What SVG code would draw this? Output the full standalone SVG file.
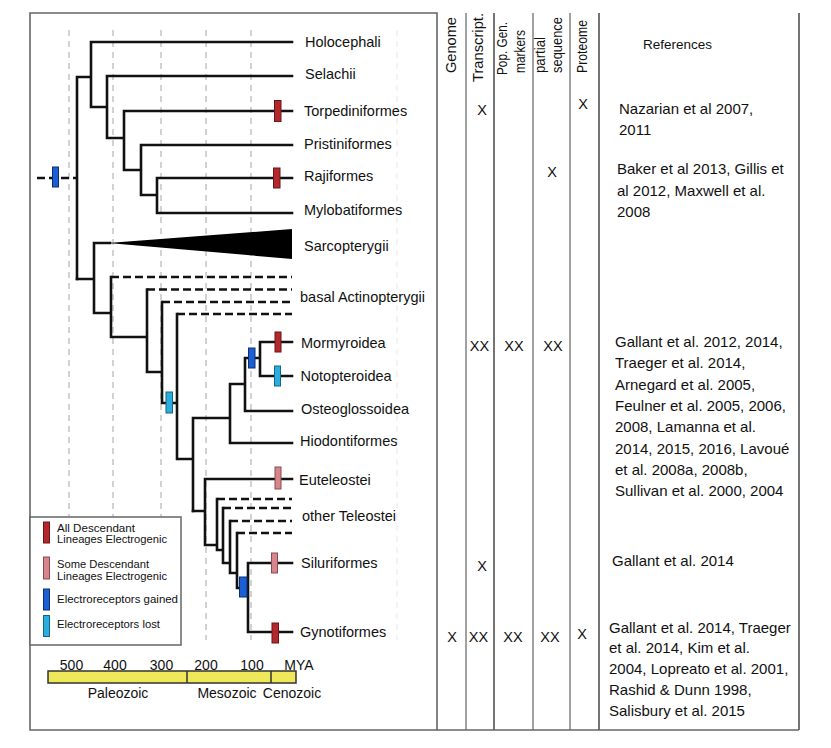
<svg xmlns="http://www.w3.org/2000/svg" width="831" height="748" viewBox="0 0 831 748">
<style>
text{font-family:"Liberation Sans",Arial,sans-serif;fill:#111}
.lab{font-size:14.5px}
.ref{font-size:15px}
.hdr{font-size:14px}
.xm{font-size:14.5px;text-anchor:middle}
.leg{font-size:11px}
.tl{font-size:14px;text-anchor:middle}
.br{stroke:#111;stroke-width:2.6;fill:none;stroke-linecap:square}
.da{stroke:#111;stroke-width:2.5;fill:none;stroke-dasharray:8 4}
.grid{stroke:#c4c4c4;stroke-width:1.5;stroke-dasharray:6 5;fill:none}
.frame{stroke:#666;stroke-width:1.6;fill:none}
.col{stroke:#8a8a8a;stroke-width:1.6}
.red{fill:#b3282d;stroke:#6b1416;stroke-width:1}
.pink{fill:#d6858a;stroke:#8a4a4e;stroke-width:1}
.blue{fill:#1c5ed6;stroke:#0d2f70;stroke-width:1}
.lblue{fill:#2badde;stroke:#156585;stroke-width:1}
</style>
<rect width="831" height="748" fill="#fff"/>
<g id="grid">
<path class="grid" d="M69 30V640M113 30V640M161 30V640M206 30V640M251 30V640"/>
<path d="M397 30V640" stroke="#ececec" stroke-width="1.2" stroke-dasharray="6 5"/>
</g>
<g id="frame">
<path class="frame" d="M30 13H437V730H30Z"/>
<path class="col" d="M466 13V730M533 13V730M570 13V730"/>
<path d="M494 13V730M599 13V730M799 13V730" stroke="#666" stroke-width="1.8"/>
<path class="frame" d="M437 730H799"/>
</g>
<g id="connectors">
<path class="da" d="M37 178H77" stroke-dasharray="5 4"/>
<path class="br" d="M77 77V279M77 77H91M91 42V107M91 42H292M91 107H107M107 76V138M107 76H292M107 138H124M124 111V170M124 111H292M124 170H141M141 145V195M141 145H292M141 195H157M157 178V213M157 178H292M157 213H292"/>
<path class="br" d="M77 279H94M94 243V313M94 243H110M94 313H111M111 277V337M111 337H147M147 289.5V372M147 372H162M162 302V403M162 403H177M177 314V459M177 459H193M193 418V511M193 418H230M230 384V443M230 443H292M230 384H245M245 358V411M245 411H292M245 358H260M260 342V376M260 342H292M260 376H292"/>
<path d="M108 243L292 229V259Z" fill="#000"/>
<path class="da" d="M111 277H292M147 289.5H292M162 302H292M177 314H292"/>
<path class="br" d="M193 511H205M205 479V545M205 479H292M205 545H217M217 499V550M217 550H223M223 508V563M223 563H230M230 521V573M230 573H237M237 533V588M237 588H248M248 563V632M248 563H292M248 632H292"/>
<path class="da" d="M217 499H292M223 508H292M230 521H292M237 533H292"/>
</g>
<g id="root-marker"><rect class="blue" x="52.5" y="167" width="6" height="20"/></g>
<g id="holocephali"><text class="lab" x="305" y="46.5">Holocephali</text></g>
<g id="selachii"><text class="lab" x="305" y="79">Selachii</text></g>
<g id="torpediniformes"><rect class="red" x="274.5" y="100.5" width="6.5" height="21"/><text class="lab" x="304" y="115.5">Torpediniformes</text></g>
<g id="pristiniformes"><text class="lab" x="304" y="149">Pristiniformes</text></g>
<g id="rajiformes"><rect class="red" x="273.5" y="168" width="6.5" height="20"/><text class="lab" x="304" y="181">Rajiformes</text></g>
<g id="mylobatiformes"><text class="lab" x="304" y="214.5">Mylobatiformes</text></g>
<g id="sarcopterygii"><text class="lab" x="304" y="250.5">Sarcopterygii</text></g>
<g id="basal-actinopterygii"><text class="lab" x="300" y="301.5">basal Actinopterygii</text></g>
<g id="mormyroidea"><rect class="red" x="275" y="332" width="6" height="20"/><text class="lab" x="301" y="348">Mormyroidea</text></g>
<g id="notopteroidea"><rect class="lblue" x="274.5" y="366" width="6" height="20"/><text class="lab" x="300.5" y="380.5">Notopteroidea</text></g>
<g id="electroreceptors-gained-mormyrid"><rect class="blue" x="248.5" y="348" width="6.5" height="20"/></g>
<g id="electroreceptors-lost"><rect class="lblue" x="166" y="392" width="6.5" height="21"/></g>
<g id="osteoglossoidea"><text class="lab" x="301" y="414">Osteoglossoidea</text></g>
<g id="hiodontiformes"><text class="lab" x="300" y="446">Hiodontiformes</text></g>
<g id="euteleostei"><rect class="pink" x="275" y="467" width="6" height="22"/><text class="lab" x="299" y="484.5">Euteleostei</text></g>
<g id="other-teleostei"><text class="lab" x="302" y="521">other Teleostei</text></g>
<g id="siluriformes"><rect class="pink" x="271.5" y="553" width="6" height="20"/><text class="lab" x="301" y="568">Siluriformes</text></g>
<g id="electroreceptors-gained-ostariophysi"><rect class="blue" x="239.5" y="577" width="7.5" height="20"/></g>
<g id="gynotiformes"><rect class="red" x="272" y="623" width="6.5" height="20"/><text class="lab" x="300" y="637">Gynotiformes</text></g>
<g id="legend">
<rect x="30" y="517" width="151" height="128" fill="#fff" stroke="#666" stroke-width="1.5"/>
<rect class="red" x="43.5" y="522" width="6" height="21"/>
<text class="leg" x="57" y="531.5" textLength="78" lengthAdjust="spacingAndGlyphs">All Descendant</text>
<text class="leg" x="57" y="543" textLength="110" lengthAdjust="spacingAndGlyphs">Lineages Electrogenic</text>
<rect class="pink" x="43.5" y="557" width="6" height="22"/>
<text class="leg" x="57" y="567.5" textLength="92" lengthAdjust="spacingAndGlyphs">Some Descendant</text>
<text class="leg" x="57" y="579.5" textLength="110" lengthAdjust="spacingAndGlyphs">Lineages Electrogenic</text>
<rect class="blue" x="43.5" y="589" width="6" height="21"/>
<text class="leg" x="57" y="602.5" textLength="121" lengthAdjust="spacingAndGlyphs">Electroreceptors gained</text>
<rect class="lblue" x="43.5" y="615.5" width="6" height="21"/>
<text class="leg" x="57" y="628" textLength="103" lengthAdjust="spacingAndGlyphs">Electroreceptors lost</text>
</g>
<g id="timeline">
<rect x="48" y="671" width="248" height="12" fill="#efe858" stroke="#333" stroke-width="1.5"/>
<path d="M187 671V683M271 671V683" stroke="#333" stroke-width="1.5"/>
<text class="tl" x="71.5" y="669.5">500</text>
<text class="tl" x="115" y="669.5">400</text>
<text class="tl" x="161.5" y="669.5">300</text>
<text class="tl" x="206" y="669.5">200</text>
<text class="tl" x="252" y="669.5">100</text>
<text class="tl" x="299" y="669.5">MYA</text>
<text class="tl" x="118" y="697.5">Paleozoic</text>
<text class="tl" x="227" y="697.5">Mesozoic</text>
<text class="tl" x="292" y="697.5">Cenozoic</text>
</g>
<g id="headers">
<text class="hdr" transform="translate(455.5 73) rotate(-90)" textLength="56" lengthAdjust="spacingAndGlyphs">Genome</text>
<text class="hdr" transform="translate(482.5 82) rotate(-90)" textLength="69" lengthAdjust="spacingAndGlyphs">Transcript.</text>
<text class="hdr" transform="translate(507 75) rotate(-90)" textLength="53" lengthAdjust="spacingAndGlyphs">Pop. Gen.</text>
<text class="hdr" transform="translate(524.5 73) rotate(-90)" textLength="43" lengthAdjust="spacingAndGlyphs">markers</text>
<text class="hdr" transform="translate(544.5 73) rotate(-90)" textLength="36" lengthAdjust="spacingAndGlyphs">partial</text>
<text class="hdr" transform="translate(561.5 73) rotate(-90)" textLength="56" lengthAdjust="spacingAndGlyphs">sequence</text>
<text class="hdr" transform="translate(587 73) rotate(-90)" textLength="53" lengthAdjust="spacingAndGlyphs">Proteome</text>
<text x="643" y="48.5" font-size="13.5">References</text>
</g>
<g id="marks">
<text class="xm" x="482" y="115">X</text>
<text class="xm" x="583" y="109">X</text>
<text class="xm" x="552" y="177">X</text>
<text class="xm" x="479.5" y="350.5">XX</text>
<text class="xm" x="514" y="350.5">XX</text>
<text class="xm" x="553" y="350.5">XX</text>
<text class="xm" x="482" y="570.5">X</text>
<text class="xm" x="452" y="642">X</text>
<text class="xm" x="478.5" y="642">XX</text>
<text class="xm" x="513" y="642">XX</text>
<text class="xm" x="550" y="642">XX</text>
<text class="xm" x="582" y="639">X</text>
</g>
<g id="references">
<text class="ref" x="619" y="114">Nazarian et al 2007,</text>
<text class="ref" x="619" y="135">2011</text>
<text class="ref" x="617" y="174">Baker et al 2013, Gillis et</text>
<text class="ref" x="617" y="195.5">al 2012, Maxwell et al.</text>
<text class="ref" x="617" y="216.5">2008</text>
<text class="ref" x="615" y="346.7">Gallant et al. 2012, 2014,</text>
<text class="ref" x="615" y="368">Traeger et al. 2014,</text>
<text class="ref" x="615" y="389.5">Arnegard et al. 2005,</text>
<text class="ref" x="615" y="410.9">Feulner et al. 2005, 2006,</text>
<text class="ref" x="615" y="432.3">2008, Lamanna et al.</text>
<text class="ref" x="615" y="453.7">2014, 2015, 2016, Lavoué</text>
<text class="ref" x="615" y="475">et al. 2008a, 2008b,</text>
<text class="ref" x="615" y="496.4">Sullivan et al. 2000, 2004</text>
<text class="ref" x="612" y="566">Gallant et al. 2014</text>
<text class="ref" x="609" y="632.7">Gallant et al. 2014, Traeger</text>
<text class="ref" x="609" y="653">et al. 2014, Kim et al.</text>
<text class="ref" x="609" y="673.5">2004, Lopreato et al. 2001,</text>
<text class="ref" x="609" y="695">Rashid &amp; Dunn 1998,</text>
<text class="ref" x="609" y="716">Salisbury et al. 2015</text>
</g>
</svg>
